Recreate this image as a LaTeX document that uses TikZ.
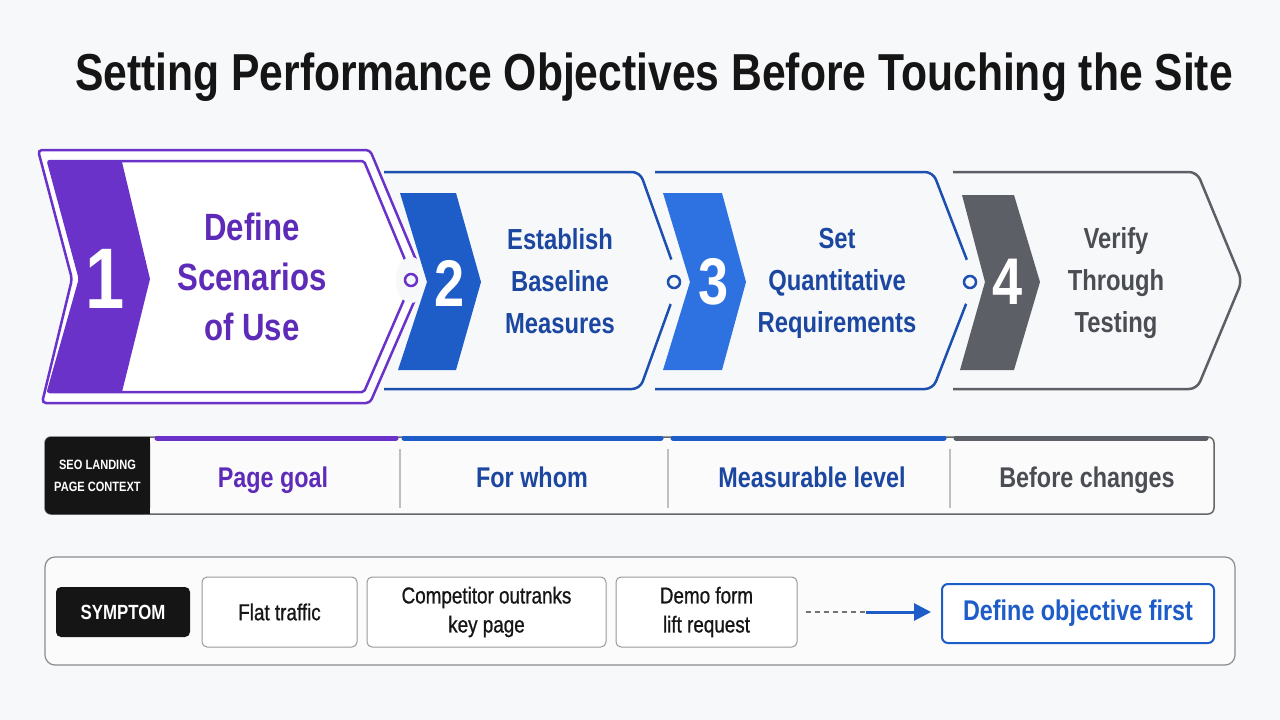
\documentclass[tikz,border=0pt]{standalone}
\usepackage{fontspec}
\setmainfont[FakeStretch=0.82]{Liberation Sans}
\newfontfamily\medfont[FakeStretch=0.82,FakeBold=0.8]{Liberation Sans}
\usetikzlibrary{arrows.meta}
\definecolor{bgc}{HTML}{F7F8FA}
\definecolor{inkc}{HTML}{151515}
\definecolor{purp}{HTML}{6A32C9}
\definecolor{purptxt}{HTML}{5E2BB8}
\definecolor{blueA}{HTML}{1E5CC8}
\definecolor{blueB}{HTML}{2D72E0}
\definecolor{blueln}{HTML}{1D4FB0}
\definecolor{bluetxt}{HTML}{1C47A0}
\definecolor{grayA}{HTML}{5C6066}
\definecolor{graytxt}{HTML}{4A4D52}

\tikzset{
  stepnum/.style={text=white,font=\bfseries\fontsize{66}{66}\selectfont},
  steptxt/.style={align=center,font=\bfseries\fontsize{29}{42}\selectfont},
  joint/.style={circle,draw,line width=2.5pt,fill=bgc,inner sep=0pt,minimum size=12pt},
  eraser/.style={fill=bgc},
  ctxtxt/.style={anchor=base,font=\bfseries\fontsize{28.5}{30}\selectfont},
  ctxbar/.style={line width=5pt,line cap=round},
  symbox/.style={draw=black!40,line width=1pt,rounded corners=5pt,fill=white,
    minimum height=70pt,align=center,text=inkc,font=\medfont\fontsize{23}{29}\selectfont},
}

\begin{document}
\begin{tikzpicture}[x=1pt,y=-1pt]
\fill[bgc] (0,0) rectangle (1280,720);
\useasboundingbox (0,0) rectangle (1280,720);

\node[text=inkc,font=\bfseries\fontsize{52}{52}\selectfont] (title) at (654,77)
  {Setting Performance Objectives Before Touching the Site};

% chevron outlines
\draw[purp,line width=2.5pt,rounded corners=4pt,fill=white]
  (38,150) -- (370,150) -- (424,279) -- (370,403) -- (42,403) -- (72,279) -- cycle;
\draw[purp,line width=2.5pt,rounded corners=2pt]
  (48,161) -- (364,161) -- (413,279) -- (364,392) -- (48,392) -- (80,279) -- cycle;
\draw[blueln,line width=2.5pt,rounded corners=8pt]
  (384,172) -- (640,172) -- (679,281) -- (640,389) -- (384,389);
\draw[blueln,line width=2.5pt,rounded corners=8pt]
  (655,172) -- (933,172) -- (975,281) -- (933,389) -- (655,389);
\draw[grayA,line width=2.5pt,rounded corners=8pt]
  (953,172) -- (1197,172) -- (1242,281) -- (1197,389) -- (953,389);
\fill[eraser] (411,280) ellipse [x radius=15, y radius=23];
\fill[eraser] (674,282) ellipse [x radius=12, y radius=23];
\fill[eraser] (970,282) ellipse [x radius=12, y radius=23];

% step badges
\fill[purp] (48,162) -- (122,162) -- (150,279) -- (122,392) -- (47,392) -- (80,279) -- cycle;
\fill[blueA] (400,193) -- (456,193) -- (481,282) -- (456,370) -- (398,370) -- (427,282) -- cycle;
\fill[blueB] (663,193) -- (722,193) -- (746,282) -- (722,370) -- (663,370) -- (690,282) -- cycle;
\fill[grayA] (962,195) -- (1014,195) -- (1040,282) -- (1014,370) -- (960,370) -- (985,282) -- cycle;

\node[stepnum,font=\bfseries\fontsize{86}{86}\selectfont] (n1) at (105,279) {1};
\node[stepnum] (n2) at (450,283) {2};
\node[stepnum] (n3) at (714,282) {3};
\node[stepnum] (n4) at (1008,282) {4};

\node[steptxt,text=purptxt,font=\bfseries\fontsize{38}{50}\selectfont] (s1) at (252,277)
  {Define\\Scenarios\\of Use};
\node[steptxt,text=bluetxt] (s2) at (560,281) {Establish\\Baseline\\Measures};
\node[steptxt,text=bluetxt] (s3) at (837,283) {Set\\Quantitative\\Requirements};
\node[steptxt,text=graytxt] (s4) at (1116,283) {Verify\\Through\\Testing};

\node[joint,draw=purp] (c1) at (411,280) {};
\node[joint,draw=blueln] (c2) at (674,282) {};
\node[joint,draw=blueln] (c3) at (970,282) {};

% context bar
\draw[black!60,line width=1.5pt,rounded corners=6pt,fill=white!50!bgc] (45,437) rectangle (1214,514);
\fill[inkc] (120,437) rectangle (150,514);
\node[fill=inkc,rounded corners=6pt,minimum width=105pt,minimum height=77pt,align=center,
  text=white,font=\bfseries\fontsize{13.5}{22}\selectfont] (ctx) at (97.5,475.5)
  {SEO LANDING\\PAGE CONTEXT};
\draw[ctxbar,purp] (157,438) -- (396,438);
\draw[ctxbar,blueA] (404,438) -- (661,438);
\draw[ctxbar,blueA] (673,438) -- (944,438);
\draw[ctxbar,grayA] (956,438) -- (1206,438);
\draw[black!25,line width=1.2pt] (400,449) -- (400,508);
\draw[black!25,line width=1.2pt] (668,449) -- (668,508);
\draw[black!25,line width=1.2pt] (950,449) -- (950,508);
\node[ctxtxt,text=purptxt] (g1) at (273,487) {Page goal};
\node[ctxtxt,text=bluetxt] (g2) at (532,487) {For whom};
\node[ctxtxt,text=bluetxt] (g3) at (812,487) {Measurable level};
\node[ctxtxt,text=graytxt] (g4) at (1087,487) {Before changes};

% symptom row
\draw[black!45,line width=1.2pt,rounded corners=10pt,fill=white!50!bgc] (45,557) rectangle (1235,665);
\node[fill=inkc,rounded corners=5pt,minimum width=134pt,minimum height=50pt,text=white,
  font=\bfseries\fontsize{20.5}{20.5}\selectfont] (sym) at (123,612) {SYMPTOM};
\node[symbox,minimum width=155pt] (flat) at (279.5,612) {Flat traffic};
\node[symbox,minimum width=239pt] (comp) at (486.5,612) {Competitor outranks\\key page};
\node[symbox,minimum width=181pt] (demo) at (706.5,612) {Demo form\\lift request};
\node[draw=blueA,line width=2pt,rounded corners=6pt,fill=white,minimum width=272pt,minimum height=59pt,
  text=blueA,font=\bfseries\fontsize{28.5}{30}\selectfont] (goal) at (1078,613.5) {Define objective first};
\coordinate (mid) at (866,612);
\draw[black!55,line width=1.2pt,dash pattern=on 5pt off 4pt] ([xshift=8pt]demo.east) -- (mid);
\draw[blueA,line width=3pt,-{Triangle[length=17pt,width=17pt]}] (mid) -- ([xshift=-10pt]goal.west |- mid);
\end{tikzpicture}
\end{document}
